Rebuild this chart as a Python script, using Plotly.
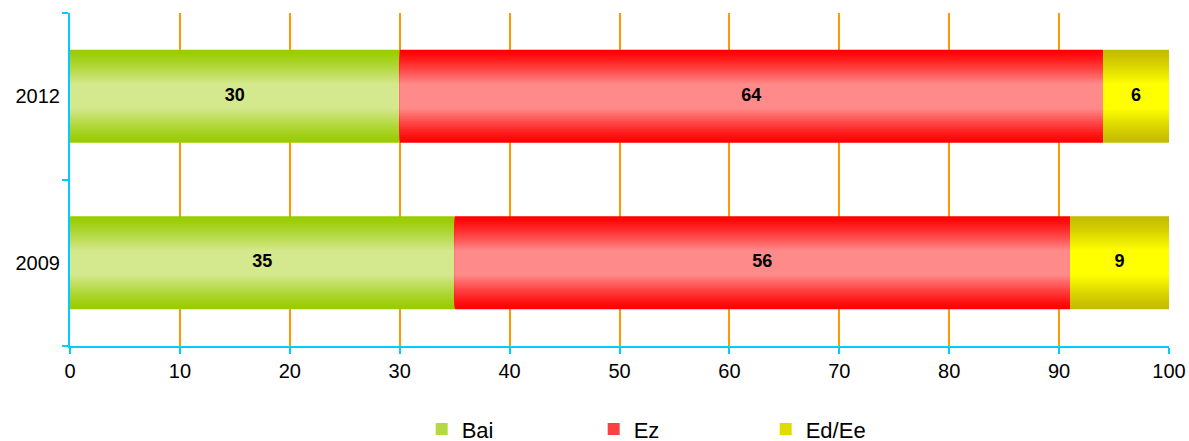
import plotly.graph_objects as go

years = ["2009", "2012"]
series_names = ["Bai", "Ez", "Ed/Ee"]
bai = [35, 30]
ez = [56, 64]
eded = [9, 6]
values = [bai, ez, eded]
x_ticks = [0, 10, 20, 30, 40, 50, 60, 70, 80, 90, 100]

edge_colors = [(0x99, 0xCC, 0x00), (0xFF, 0x00, 0x00), (0xC4, 0xBC, 0x00)]
center_colors = [(0xD4, 0xE8, 0x8E), (0xFF, 0x8A, 0x8A), (0xFF, 0xFF, 0x00)]

BAR_W = 0.56
N_LAYERS = 18
MIN_FRAC = 0.28

def mix(a, b, t):
    return "rgb(%d,%d,%d)" % tuple(round(a[i] + (b[i] - a[i]) * t) for i in range(3))

fig = go.Figure()

cum = [0 for _ in years]
series_bases = []
for vals in values:
    series_bases.append(list(cum))
    cum = [c + v for c, v in zip(cum, vals)]

for si, (name, vals) in enumerate(zip(series_names, values)):
    base = series_bases[si]
    for k in range(N_LAYERS):
        t = k / (N_LAYERS - 1)
        frac = 1 - (1 - MIN_FRAC) * t
        col = mix(edge_colors[si], center_colors[si], t ** 1.2)
        fig.add_trace(go.Bar(
            y=years, x=vals, base=base, orientation="h",
            width=BAR_W * frac,
            marker=dict(color=col, line=dict(width=0)),
            name=name, legendgroup=name,
            showlegend=(k == N_LAYERS // 2),
            hoverinfo="skip",
        ))
    fig.add_trace(go.Scatter(
        y=years, x=[b + v / 2 for b, v in zip(base, vals)],
        mode="text", text=[str(v) for v in vals],
        textfont=dict(family="Liberation Sans", size=18, color="black", weight="bold"),
        showlegend=False, hoverinfo="skip",
    ))

axis_col = "#00CCFF"
fig.update_layout(
    width=1189, height=441,
    barmode="overlay",
    plot_bgcolor="white", paper_bgcolor="white",
    margin=dict(l=70, r=20, t=13, b=95, autoexpand=False),
    font=dict(family="Liberation Sans", size=20, color="black"),
    showlegend=True,
    legend=dict(
        orientation="h", x=0.32, xanchor="left", y=-0.25, yanchor="middle",
        entrywidth=127, entrywidthmode="pixels",
        font=dict(size=22), traceorder="normal", bgcolor="rgba(0,0,0,0)",
    ),
    xaxis=dict(
        type="linear", range=[0, 100], tickvals=x_ticks,
        showgrid=True, gridcolor="#FF9900", gridwidth=1.5,
        showline=True, linecolor=axis_col, linewidth=2,
        ticks="outside", ticklen=6, tickcolor=axis_col, tickwidth=2,
        zeroline=False, fixedrange=True, automargin=False,
    ),
    yaxis=dict(
        type="category", categoryorder="array", categoryarray=years, range=[-0.5, 1.5],
        showgrid=False, showline=True, linecolor=axis_col, linewidth=2,
        ticks="outside", ticklen=6, tickcolor=axis_col, tickwidth=2,
        tickson="boundaries", zeroline=False, ticklabelstandoff=4, automargin=False,
        fixedrange=True,
    ),
)

fig.write_html("out.html", config={"displayModeBar": False},
               post_script="document.body.style.margin='0';")
